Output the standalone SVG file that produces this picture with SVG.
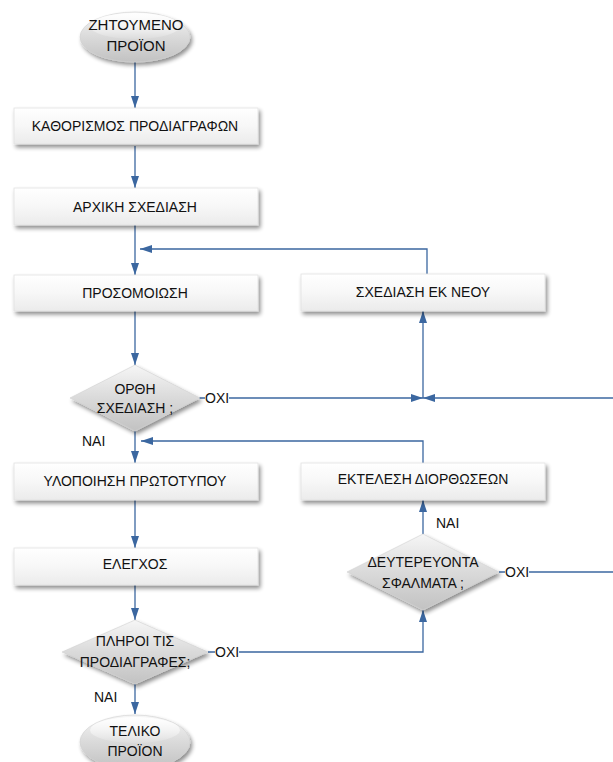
<svg xmlns="http://www.w3.org/2000/svg" width="613" height="762" viewBox="0 0 613 762">
  <defs>
    <linearGradient id="boxFill" x1="0" y1="0" x2="0" y2="1">
      <stop offset="0" stop-color="#ffffff"/>
      <stop offset="0.5" stop-color="#f7f7f7"/>
      <stop offset="1" stop-color="#ebebeb"/>
    </linearGradient>
    <linearGradient id="shapeFill" x1="0" y1="0" x2="0" y2="1">
      <stop offset="0" stop-color="#f6f6f6"/>
      <stop offset="0.5" stop-color="#dadada"/>
      <stop offset="1" stop-color="#c2c2c2"/>
    </linearGradient>
    <linearGradient id="gloss" x1="0" y1="0" x2="0" y2="1">
      <stop offset="0" stop-color="#ffffff" stop-opacity="0.95"/>
      <stop offset="1" stop-color="#ffffff" stop-opacity="0.1"/>
    </linearGradient>
    <filter id="shadow" x="-10%" y="-20%" width="125%" height="150%">
      <feGaussianBlur in="SourceAlpha" stdDeviation="2"/>
      <feOffset dx="2" dy="3" result="b"/>
      <feComponentTransfer><feFuncA type="linear" slope="0.45"/></feComponentTransfer>
      <feMerge><feMergeNode/><feMergeNode in="SourceGraphic"/></feMerge>
    </filter>
    <marker id="arrow" viewBox="0 0 12 8" refX="12" refY="4" markerWidth="12" markerHeight="8" markerUnits="userSpaceOnUse" orient="auto">
      <path d="M0,0 L12,4 L0,8 Z" fill="#3b67a0"/>
    </marker>
  </defs>
  <style>
    .box { fill: url(#boxFill); stroke: #e2e2e2; stroke-width: 0.8; filter: url(#shadow); }
    .shape { fill: url(#shapeFill); stroke: #d0d0d0; stroke-width: 0.6; filter: url(#shadow); }
    .gloss { fill: url(#gloss); }
    .lbl { font-family: "Liberation Sans", Arial, sans-serif; font-size: 14px; fill: #111; text-anchor: middle; }
    .big { font-size: 15px; }
    .tag { font-family: "Liberation Sans", Arial, sans-serif; font-size: 14px; fill: #111; }
    .edge { fill: none; stroke: #3b67a0; stroke-width: 1.3; }
    .arr { marker-end: url(#arrow); }
  </style>

  <rect width="613" height="762" fill="#ffffff"/>

  <!-- connectors -->
  <g id="connectors">
    <path class="edge arr" d="M135,61 V108"/>
    <path class="edge arr" d="M135,146 V188"/>
    <path class="edge arr" d="M135,225 V275"/>
    <path class="edge arr" d="M427,274 V249 H140"/>
    <path class="edge arr" d="M135,311 V365"/>
    <path class="edge arr" d="M199,398 H423"/>
    <path class="edge arr" d="M613,398 H423"/>
    <path class="edge arr" d="M423,398 V311"/>
    <path class="edge arr" d="M135,431 V463"/>
    <path class="edge arr" d="M423,463 V441 H141"/>
    <path class="edge arr" d="M135,500 V548"/>
    <path class="edge arr" d="M135,585 V620"/>
    <path class="edge arr" d="M208,652 H423 V610"/>
    <path class="edge arr" d="M423,534 V500"/>
    <path class="edge" d="M499,572 H613"/>
    <path class="edge arr" d="M135,684 V714"/>
    <!-- branch labels -->
    <rect x="205" y="390" width="24" height="16" fill="#ffffff"/>
    <text class="tag" x="205" y="403">ΟΧΙ</text>
    <text class="tag" x="82" y="446">ΝΑΙ</text>
    <text class="tag" x="436" y="528">ΝΑΙ</text>
    <rect x="505" y="564" width="24" height="16" fill="#ffffff"/>
    <text class="tag" x="505" y="577">ΟΧΙ</text>
    <rect x="215" y="644" width="24" height="16" fill="#ffffff"/>
    <text class="tag" x="215" y="657">ΟΧΙ</text>
    <text class="tag" x="94" y="702">ΝΑΙ</text>
  </g>

  <g id="start">
    <ellipse class="shape" cx="135" cy="37" rx="55" ry="25"/>
    <ellipse class="gloss" cx="135" cy="26" rx="45" ry="13"/>
    <text class="lbl big" x="136" y="30">ΖΗΤΟΥΜΕΝΟ</text>
    <text class="lbl big" x="136" y="51">ΠΡΟΪΟΝ</text>
  </g>

  <g id="specs">
    <rect class="box" x="14" y="108" width="244" height="36"/>
    <text class="lbl" x="135" y="131">ΚΑΘΟΡΙΣΜΟΣ ΠΡΟΔΙΑΓΡΑΦΩΝ</text>
  </g>

  <g id="initial-design">
    <rect class="box" x="14" y="188" width="244" height="37"/>
    <text class="lbl" x="135" y="212">ΑΡΧΙΚΗ ΣΧΕΔΙΑΣΗ</text>
  </g>

  <g id="simulation">
    <rect class="box" x="14" y="275" width="244" height="36"/>
    <text class="lbl" x="135" y="298">ΠΡΟΣΟΜΟΙΩΣΗ</text>
  </g>

  <g id="redesign">
    <rect class="box" x="301" y="274" width="244" height="37"/>
    <text class="lbl" x="423" y="297">ΣΧΕΔΙΑΣΗ ΕΚ ΝΕΟΥ</text>
  </g>

  <g id="design-ok">
    <polygon class="shape" points="135,365 200,398 135,431 70,398"/>
    <text class="lbl" x="135" y="394">ΟΡΘΗ</text>
    <text class="lbl" x="135" y="413">ΣΧΕΔΙΑΣΗ ;</text>
  </g>

  <g id="prototype">
    <rect class="box" x="14" y="463" width="244" height="37"/>
    <text class="lbl" x="135" y="486">ΥΛΟΠΟΙΗΣΗ ΠΡΩΤΟΤΥΠΟΥ</text>
  </g>

  <g id="corrections">
    <rect class="box" x="301" y="463" width="244" height="37"/>
    <text class="lbl" x="423" y="484">ΕΚΤΕΛΕΣΗ ΔΙΟΡΘΩΣΕΩΝ</text>
  </g>

  <g id="testing">
    <rect class="box" x="14" y="548" width="244" height="37"/>
    <text class="lbl" x="135" y="569">ΕΛΕΓΧΟΣ</text>
  </g>

  <g id="minor-errors">
    <polygon class="shape" points="423,534 499,572 423,610 347,572"/>
    <text class="lbl" x="423" y="567">ΔΕΥΤΕΡΕΥΟΝΤΑ</text>
    <text class="lbl" x="423" y="588">ΣΦΑΛΜΑΤΑ ;</text>
  </g>

  <g id="meets-specs">
    <polygon class="shape" points="135,620 208,652 135,684 62,652"/>
    <text class="lbl" x="135" y="646">ΠΛΗΡΟΙ ΤΙΣ</text>
    <text class="lbl" x="135" y="667">ΠΡΟΔΙΑΓΡΑΦΕΣ;</text>
  </g>

  <g id="end">
    <ellipse class="shape" cx="135" cy="742" rx="55" ry="27"/>
    <ellipse class="gloss" cx="135" cy="730" rx="45" ry="13"/>
    <text class="lbl" x="135" y="736">ΤΕΛΙΚΟ</text>
    <text class="lbl" x="135" y="756">ΠΡΟΪΟΝ</text>
  </g>
</svg>
